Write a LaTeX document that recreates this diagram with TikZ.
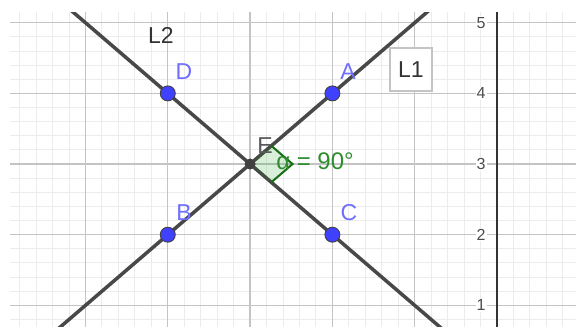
\documentclass[tikz,border=0pt]{standalone}
\usepackage{fontspec}
\setmainfont{Liberation Sans}
\usetikzlibrary{positioning,calc}
\definecolor{ptblue}{RGB}{64,64,255}
\definecolor{lblblue}{RGB}{110,110,255}
\definecolor{lngray}{RGB}{72,72,72}
\definecolor{angreen}{RGB}{20,110,20}
\definecolor{txtgreen}{RGB}{45,140,45}
\definecolor{majgray}{RGB}{196,196,196}
\definecolor{mingray}{RGB}{236,236,236}

\begin{document}
\begin{tikzpicture}[x=82.3bp,y=70.65bp,
  pt/.style={circle,draw=black!75,fill=ptblue,line width=0.9bp,minimum size=15bp,inner sep=0pt},
  ept/.style={circle,fill=black!75,minimum size=11bp,inner sep=0pt},
  ptlbl/.style={anchor=base,text=lblblue,font=\fontsize{23bp}{25bp}\selectfont},
  lnlbl/.style={anchor=base,text=black!80,font=\fontsize{23bp}{25bp}\selectfont},
  ticklbl/.style={anchor=east,text=black!70,fill=white,inner sep=1bp,font=\fontsize{16bp}{18bp}\selectfont},
  gline/.style={lngray,line width=3.5bp}]
  \def\xL{-6.0389} \def\xR{0.9599} \def\yB{0.6936} \def\yT{5.3221}
  \def\gL{-5.917} \def\gT{5.152}
  \useasboundingbox (\xL,\yB) rectangle (\xR,\yT);
  \fill[white] (\xL,\yB) rectangle (\xR,\yT);
  % grid and axis
  \draw[mingray,line width=1bp] (\gL,\yB) grid[step=0.2] (\xR,\gT);
  \draw[majgray,line width=1.3bp] (\gL,\yB) grid[step=1] (\xR,\gT);
  \draw[black!80,line width=2bp] (0,\yB) -- (0,\gT);
  \foreach \y in {1,...,5}
    \node[ticklbl] (tick\y) at (-0.125,\y) {\y};
  % lines
  \begin{scope}
    \clip (\gL,\yB) rectangle (\xR,\gT);
    \coordinate (L1a) at (-6.5,-0.5); \coordinate (L1b) at (-0.5,5.5);
    \coordinate (L2a) at (-5.5,5.5); \coordinate (L2b) at (-0.5,0.5);
    \draw[gline] (L1a) -- (L1b);
    \draw[gline] (L2a) -- (L2b);
  \end{scope}
  % right angle
  \coordinate (Ev) at (-3,3);
  \coordinate (P1) at ($(Ev)+(0.258,0.258)$);
  \coordinate (Q) at ($(Ev)+(0.516,0)$);
  \coordinate (P2) at ($(Ev)+(0.258,-0.258)$);
  \fill[green!60!black,opacity=0.15] (Ev) -- (P1) -- (Q) -- (P2) -- cycle;
  \draw[angreen,line width=2bp] (P1) -- (Q) -- (P2);
  % points
  \node[pt] (A) at (-2,4) {};
  \node[pt] (B) at (-4,2) {};
  \node[pt] (C) at (-2,2) {};
  \node[pt] (D) at (-4,4) {};
  \node[ept] (E) at (Ev) {};
  % labels
  \node[ptlbl] (Alb) at (-1.810,4.190) {A};
  \node[ptlbl] (Blb) at (-3.803,2.194) {B};
  \node[ptlbl] (Clb) at (-1.798,2.194) {C};
  \node[ptlbl] (Dlb) at (-3.803,4.190) {D};
  \node[lnlbl,text=black!65] (Elb) at (-2.819,3.156) {E};
  \node[lnlbl] (L2lb) at (-4.083,4.713) {L2};
  \node[draw=majgray,fill=white,line width=2bp,minimum width=42bp,minimum height=43bp,
    text=black!80,font=\fontsize{23bp}{25bp}\selectfont] (L1lb) at (-1.045,4.338) {L1};
  \node[anchor=base,text=txtgreen,font=\fontsize{24bp}{26bp}\selectfont] (ang) at (-2.211,2.916) {α = 90°};
\end{tikzpicture}
\end{document}
